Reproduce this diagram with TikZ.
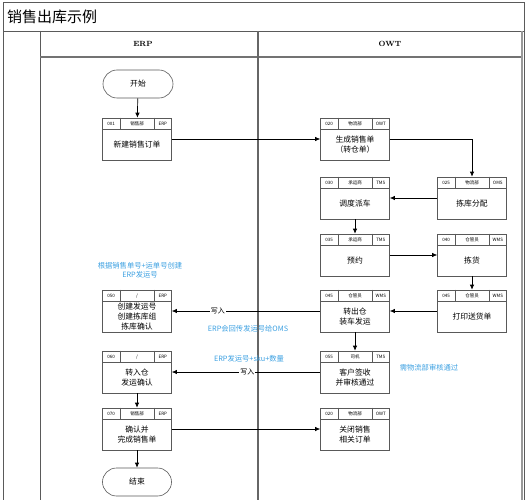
\documentclass[tikz,border=0pt]{standalone}
\usepackage{fontspec}
\usepackage{xcolor}
\usepackage{tikz}
\usetikzlibrary{arrows.meta}

\newfontfamily\cjk{Noto Sans CJK SC}
\definecolor{noteblue}{RGB}{60,160,225}
\definecolor{framegray}{RGB}{90,90,90}

\tikzset{
    procbox/.style={draw=black!65, line width=0.6pt, minimum width=69pt, minimum height=42pt, inner sep=0pt},
    hdrtext/.style={font=\cjk\fontsize{4.5}{5}\selectfont, inner sep=0pt},
    boxtext/.style={font=\cjk\fontsize{7.8}{10}\selectfont, align=center, inner sep=0pt},
    terminal/.style={draw=black!65, line width=0.6pt, rounded corners=14pt, minimum width=70pt, minimum height=28pt, font=\cjk\fontsize{7.8}{10}\selectfont},
    flow/.style={-{Latex[length=5pt,width=4.5pt]}, line width=0.7pt},
    wlabel/.style={fill=white, inner sep=1pt, font=\cjk\fontsize{7}{8}\selectfont},
    note/.style={text=noteblue, font=\cjk\fontsize{7.3}{9.5}\selectfont, align=center, inner sep=0pt}
}

% process box with a three-cell header: name, center, id, department, system, text
\newcommand{\procbox}[6]{%
    \node[procbox] (#1) at (#2) {};
    \draw[black!65, line width=0.5pt] ([yshift=-12pt]#1.north west) -- ([yshift=-12pt]#1.north east);
    \draw[black!65, line width=0.5pt] ([xshift=18pt]#1.north west) -- ++(0,12);
    \draw[black!65, line width=0.5pt] ([xshift=-18pt]#1.north east) -- ++(0,12);
    \node[hdrtext] at ([xshift=9pt,yshift=-6pt]#1.north west) {#3};
    \node[hdrtext] at ([yshift=-6pt]#1.north) {#4};
    \node[hdrtext] at ([xshift=-9pt,yshift=-6pt]#1.north east) {#5};
    \node[boxtext] at ([yshift=-6pt]#1.center) {#6};
}

\begin{document}
\begin{tikzpicture}[x=1pt, y=-1pt]
    \useasboundingbox (0,0) rectangle (528,500);

    % Draw frame and swimlanes
    \draw[framegray, line width=0.8pt] (3,501) -- (3,2) -- (524,2) -- (524,501);
    \draw[framegray, line width=0.8pt] (3,31) -- (524,31);
    \draw[framegray, line width=0.9pt] (40,31) -- (40,501);
    \draw[black!55, line width=1.4pt] (40,57) -- (522,57);
    \draw[black!60, line width=1.3pt] (258,31) -- (258,501);
    \draw[black!40, line width=1.2pt] (522,31) -- (522,501);
    \node[anchor=west, inner sep=0pt, font=\cjk\fontsize{15}{16}\selectfont] (title) at (7,17) {销售出库示例};
    \node[font=\bfseries\fontsize{7.5}{9}\selectfont] (erp) at (143,44) {ERP};
    \node[font=\bfseries\fontsize{7.5}{9}\selectfont] (owt) at (390,44) {OWT};

    % Draw steps
    \node[terminal] (start) at (138,84) {开始};
    \procbox{neworder}{137,139}{001}{销售部}{ERP}{新建销售订单}
    \procbox{saleorder}{355,139}{020}{物流部}{OWT}{生成销售单\\（转仓单）}
    \procbox{alloc}{472,198}{025}{物流部}{OMS}{拣库分配}
    \procbox{dispatch}{355,198}{030}{承运商}{TMS}{调度派车}
    \procbox{booking}{355,255}{035}{承运商}{TMS}{预约}
    \procbox{picking}{472,255}{040}{仓管员}{WMS}{拣货}
    \procbox{printnote}{472,311}{045}{仓管员}{WMS}{打印送货单}
    \procbox{shipout}{355,311}{045}{仓管员}{WMS}{转出仓\\装车发运}
    \procbox{createship}{137,311}{050}{/}{ERP}{创建发运号\\创建拣库组\\拣库确认}
    \procbox{sign}{355,372}{055}{司机}{TMS}{客户签收\\并审核通过}
    \procbox{transfer}{137,372}{060}{/}{ERP}{转入仓\\发运确认}
    \procbox{finish}{137,429}{070}{销售部}{ERP}{确认并\\完成销售单}
    \procbox{closeorder}{355,429}{020}{物流部}{OWT}{关闭销售\\相关订单}
    \node[terminal, minimum width=69pt] (end) at (137,482) {结束};

    % Draw connectors
    \draw[flow] (start) -- (neworder);
    \draw[flow] (neworder) -- (saleorder);
    \draw[flow] (saleorder.east) -| (alloc.north);
    \draw[flow] (alloc) -- (dispatch);
    \draw[flow] (dispatch) -- (booking);
    \draw[flow] (booking) -- (picking);
    \draw[flow] (picking) -- (printnote);
    \draw[flow] (printnote) -- (shipout);
    \draw[flow] (shipout) -- node[wlabel, pos=0.69] {写入} (createship);
    \draw[flow] (shipout) -- (sign);
    \draw[flow] (sign) -- node[wlabel, pos=0.49] {写入} (transfer);
    \draw[flow] (transfer) -- (finish);
    \draw[flow] (finish) -- (closeorder);
    \draw[flow] (finish) -- (end);

    % Label notes
    \node[note] (note1) at (140,270) {根据销售单号+运单号创建\\ERP发运号};
    \node[note] (note2) at (248,329) {ERP会回传发运号给OMS};
    \node[note] (note3) at (249,359) {ERP发运号+sku+数量};
    \node[note] (note4) at (429,368) {需物流部审核通过};
\end{tikzpicture}
\end{document}
